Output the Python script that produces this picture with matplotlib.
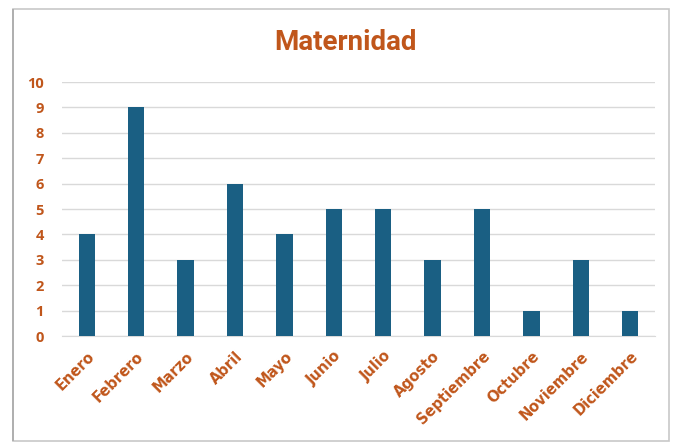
import matplotlib
matplotlib.use("Agg")
import matplotlib.pyplot as plt
from matplotlib.patches import Rectangle

months = ["Enero", "Febrero", "Marzo", "Abril", "Mayo", "Junio", "Julio",
          "Agosto", "Septiembre", "Octubre", "Noviembre", "Diciembre"]
values = [4, 9, 3, 6, 4, 5, 5, 3, 5, 1, 3, 1]
yticks = list(range(0, 11))

orange = "#C0561B"
bar_color = "#1A5F83"

fig = plt.figure(figsize=(6.78, 4.44), dpi=100)
W, H = 678, 444
# chart frame
fig.patches.append(Rectangle((13 / W, 1 - 441 / H), (669 - 13) / W, (441 - 9) / H,
                             transform=fig.transFigure, facecolor="white",
                             edgecolor="#C8C8C8", linewidth=1.2, zorder=-2))
fig.patches.append(Rectangle((12 / W, 1 - 441 / H), 2 / W, (441 - 9) / H,
                             transform=fig.transFigure, facecolor="#B0B0B0",
                             edgecolor="none", zorder=-1))

ax = fig.add_axes([62 / W, 1 - 336 / H, (655 - 62) / W, (336 - 82) / H])
ax.set_zorder(5)
x = list(range(len(months)))
ax.bar(x, values, width=0.33, color=bar_color, zorder=3)
ax.set_xlim(-0.5, len(months) - 0.5)
ax.set_ylim(0, 10)
ax.set_yticks(yticks)
ax.set_yticklabels([str(t) for t in yticks], fontfamily="Open Sans",
                   fontweight="bold", fontsize=10.5, color=orange)
ax.set_xticks(x)
ax.set_xticklabels(months, rotation=45, ha="right", rotation_mode="anchor",
                   fontfamily="DejaVu Sans", fontweight="bold", fontsize=10.5,
                   color=orange)
ax.tick_params(axis="both", length=0)
ax.tick_params(axis="y", pad=13)
ax.tick_params(axis="x", pad=9)
ax.grid(axis="y", color="#D9D9D9", linewidth=1, zorder=0)
ax.set_axisbelow(True)
for s in ["top", "right", "left"]:
    ax.spines[s].set_visible(False)
ax.spines["bottom"].set_color("#D9D9D9")
ax.patch.set_alpha(0)

fig.text(346 / W, 1 - 42 / H, "Maternidad", ha="center", va="center",
         fontfamily="Roboto", fontweight="bold", fontsize=20, color=orange,
         zorder=6)

fig.savefig("out.png", dpi=100)
